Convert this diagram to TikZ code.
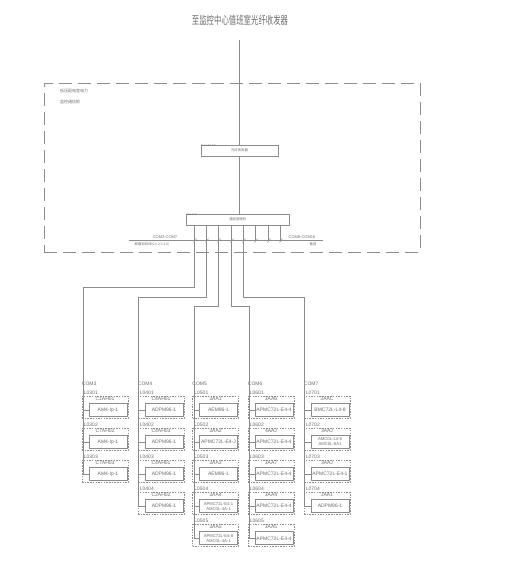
\documentclass[tikz,border=0pt]{standalone}
\usepackage{fontspec}
\setmainfont{Liberation Sans}
\newfontfamily\cjk{Noto Sans CJK SC}
\usetikzlibrary{positioning,calc}
\definecolor{cadgray}{gray}{0.55}
\definecolor{cadtext}{gray}{0.42}

\begin{document}
\begin{tikzpicture}[
    x=1pt, y=-1pt,
    every node/.style={font=\fontsize{5}{5.8}\selectfont, text=cadtext, inner sep=0pt},
    wire/.style={draw=cadgray, line width=0.8pt},
    tickmark/.style={draw=cadgray, line width=0.5pt},
    panel/.style={rectangle, draw=cadgray, line width=0.8pt, dash pattern=on 13pt off 6pt, minimum width=376pt, minimum height=169pt},
    unitbox/.style={rectangle, draw=cadgray, line width=0.8pt, minimum height=11pt},
    groupbox/.style={rectangle, draw=cadgray, line width=0.6pt, dash pattern=on 1.5pt off 1.2pt, minimum width=46pt, minimum height=22pt},
    devbox/.style={rectangle, draw=cadgray, line width=0.8pt, minimum width=38pt, minimum height=13pt, xshift=3pt, align=center},
    smalltag/.style={font=\cjk\fontsize{3.4}{4}\selectfont},
    tag/.style={font=\cjk\fontsize{4}{5}\selectfont},
    devtwo/.style={font=\fontsize{4.2}{5}\selectfont},
]
\useasboundingbox (0,0) rectangle (505,573);

\node[tag] (title) at (240,20) {\fontsize{7.4}{9}\selectfont\scalebox{1}[1.5]{至监控中心值班室光纤收发器}};
\node[panel] (panel) at (232,167.5) {};
\node[tag, anchor=west] (paneltop) at (60,91) {低压配电室电力};
\node[tag, anchor=west] (panelsub) at (60,102) {监控通信柜};

\node[unitbox, smalltag, minimum width=77pt] (conv) at (239.5,150.5) {光纤收发器};
\node[anchor=north west, font=\fontsize{2.5}{3}\selectfont] (convtag) at (conv.north west) {1AH-1AP-FO};
\node[unitbox, smalltag, minimum width=102.5pt] (mgr) at (237.75,219.5) {通信管理机};
\node[anchor=north west, font=\fontsize{2.5}{3}\selectfont] (mgrtag) at (mgr.north west) {1AH-1AP};

\coordinate (feed) at (239.5,40);
\draw[wire] (feed) -- (conv.north);
\draw[wire] (conv.south) -- (conv.south |- mgr.north);

% bus under the manager
\coordinate (busl) at (129,240.5);
\coordinate (busr) at (323,240.5);
\draw[wire] (busl) -- (busr);
\node[anchor=south, font=\fontsize{4}{5}\selectfont] (busa) at (165,239) {COM3-COM7};
\node[smalltag, anchor=north] (busb) at (152,242.5) {屏蔽双绞线(2×2×1.0)};
\node[anchor=south, font=\fontsize{4}{5}\selectfont] (busc) at (302,239) {COM8-COM16};
\node[smalltag, anchor=north] (busd) at (313,242.5) {备用};

\coordinate (p1) at (194.5,225);
\coordinate (p2) at (206.5,225);
\coordinate (p3) at (218.5,225);
\coordinate (p4) at (231.5,225);
\coordinate (p5) at (243.5,225);
\coordinate (p6) at (255.5,225);
\coordinate (p7) at (268.5,225);
\coordinate (p8) at (280.5,225);
\draw[wire] (p6) -- (p6 |- busl);
\draw[wire] (p7) -- (p7 |- busl);
\draw[wire] (p8) -- (p8 |- busl);
\draw[tickmark] (p1 |- busl) ++(-1,2) -- ++(3,-4);
\draw[tickmark] (p2 |- busl) ++(-1,2) -- ++(3,-4);
\draw[tickmark] (p3 |- busl) ++(-1,2) -- ++(3,-4);
\draw[tickmark] (p4 |- busl) ++(-1,2) -- ++(3,-4);
\draw[tickmark] (p5 |- busl) ++(-1,2) -- ++(3,-4);
\draw[tickmark] (p6 |- busl) ++(-1,2) -- ++(3,-4);
\draw[tickmark] (p7 |- busl) ++(-1,2) -- ++(3,-4);
\draw[tickmark] (p8 |- busl) ++(-1,2) -- ++(3,-4);

% COM3
\node[groupbox] (g301) at (105,407) {};
\node[groupbox, below=9.5pt of g301] (g302) {};
\node[groupbox, below=9.5pt of g302] (g303) {};
\node[above=1.5pt of g301.south, devbox] (d301) {AM4-Ip-1};
\node[above=1.5pt of g302.south, devbox] (d302) {AM4-Ip-1};
\node[above=1.5pt of g303.south, devbox] (d303) {AM4-Ip-1};
\node[below=0.8pt of g301.north] (t301) {C1AH01};
\node[below=0.8pt of g302.north] (t302) {C7AH02};
\node[below=0.8pt of g303.north] (t303) {C7AH03};
\node[above right=1pt and 2pt of g301.north west] (l301) {L0301};
\node[above right=1pt and 2pt of g302.north west] (l302) {L0302};
\node[above right=1pt and 2pt of g303.north west] (l303) {L0303};
\node[above right=5pt and 0pt of l301.north west, xshift=-2pt] (c3) {COM3};
\coordinate (k3) at (83,287);
\draw[wire] (p1) |- (k3) -- (k3 |- d303) -- (d303.west);
\draw[wire] (k3 |- d301) -- (d301.west);
\draw[wire] (k3 |- d302) -- (d302.west);

% COM4
\node[groupbox] (g401) at (161,407) {};
\node[groupbox, below=9.5pt of g401] (g402) {};
\node[groupbox, below=9.5pt of g402] (g403) {};
\node[groupbox, below=9.5pt of g403] (g404) {};
\node[above=1.5pt of g401.south, devbox] (d401) {ADPM96-1};
\node[above=1.5pt of g402.south, devbox] (d402) {ADPM96-1};
\node[above=1.5pt of g403.south, devbox] (d403) {ADPM96-1};
\node[above=1.5pt of g404.south, devbox] (d404) {ADPM96-1};
\node[below=0.8pt of g401.north] (t401) {C4AH01};
\node[below=0.8pt of g402.north] (t402) {C4AH03};
\node[below=0.8pt of g403.north] (t403) {C4AH01};
\node[below=0.8pt of g404.north] (t404) {C2AH02};
\node[above right=1pt and 2pt of g401.north west] (l401) {L0401};
\node[above right=1pt and 2pt of g402.north west] (l402) {L0402};
\node[above right=1pt and 2pt of g403.north west] (l403) {L0403};
\node[above right=1pt and 2pt of g404.north west] (l404) {L0404};
\node[above right=5pt and 0pt of l401.north west, xshift=-2pt] (c4) {COM4};
\coordinate (k4) at (138,297.5);
\draw[wire] (p2) |- (k4) -- (k4 |- d404) -- (d404.west);
\draw[wire] (k4 |- d401) -- (d401.west);
\draw[wire] (k4 |- d402) -- (d402.west);
\draw[wire] (k4 |- d403) -- (d403.west);

% COM5
\node[groupbox] (g501) at (215.5,407) {};
\node[groupbox, below=9.5pt of g501] (g502) {};
\node[groupbox, below=9.5pt of g502] (g503) {};
\node[groupbox, below=9.5pt of g503] (g504) {};
\node[groupbox, below=9.5pt of g504] (g505) {};
\node[above=1.5pt of g501.south, devbox] (d501) {AEM96-1};
\node[above=1.5pt of g502.south, devbox] (d502) {APMC72L-E4-J};
\node[above=1.5pt of g503.south, devbox] (d503) {AEM96-1};
\node[above=1.5pt of g504.south, devbox, devtwo] (d504) {APMC72L-E4-1\\AMC0L-4A-1};
\node[above=1.5pt of g505.south, devbox, devtwo] (d505) {APMC72L-E4-8\\AMC0L-4A-1};
\node[below=0.8pt of g501.north] (t501) {3AA1};
\node[below=0.8pt of g502.north] (t502) {3AA2};
\node[below=0.8pt of g503.north] (t503) {3AA3};
\node[below=0.8pt of g504.north] (t504) {3AA4};
\node[below=0.8pt of g505.north] (t505) {3AA5};
\node[above right=1pt and 2pt of g501.north west] (l501) {L0501};
\node[above right=1pt and 2pt of g502.north west] (l502) {L0502};
\node[above right=1pt and 2pt of g503.north west] (l503) {L0503};
\node[above right=1pt and 2pt of g504.north west] (l504) {L0504};
\node[above right=1pt and 2pt of g505.north west] (l505) {L0505};
\node[above right=5pt and 0pt of l501.north west, xshift=-2pt] (c5) {COM5};
\coordinate (k5) at (194,306);
\draw[wire] (p3) |- (k5) -- (k5 |- d505) -- (d505.west);
\draw[wire] (k5 |- d501) -- (d501.west);
\draw[wire] (k5 |- d502) -- (d502.west);
\draw[wire] (k5 |- d503) -- (d503.west);
\draw[wire] (k5 |- d504) -- (d504.west);

% COM6
\node[groupbox] (g601) at (271,407) {};
\node[groupbox, below=9.5pt of g601] (g602) {};
\node[groupbox, below=9.5pt of g602] (g603) {};
\node[groupbox, below=9.5pt of g603] (g604) {};
\node[groupbox, below=9.5pt of g604] (g605) {};
\node[above=1.5pt of g601.south, devbox] (d601) {APMC72L-E4-4};
\node[above=1.5pt of g602.south, devbox] (d602) {APMC72L-E4-4};
\node[above=1.5pt of g603.south, devbox] (d603) {APMC72L-E4-4};
\node[above=1.5pt of g604.south, devbox] (d604) {APMC72L-E4-4};
\node[above=1.5pt of g605.south, devbox] (d605) {APMC72L-E4-4};
\node[below=0.8pt of g601.north] (t601) {3AA6};
\node[below=0.8pt of g602.north] (t602) {4AAJ};
\node[below=0.8pt of g603.north] (t603) {3AA7};
\node[below=0.8pt of g604.north] (t604) {3AA4};
\node[below=0.8pt of g605.north] (t605) {3AA5};
\node[above right=1pt and 2pt of g601.north west] (l601) {L0601};
\node[above right=1pt and 2pt of g602.north west] (l602) {L0602};
\node[above right=1pt and 2pt of g603.north west] (l603) {L0603};
\node[above right=1pt and 2pt of g604.north west] (l604) {L0604};
\node[above right=1pt and 2pt of g605.north west] (l605) {L0605};
\node[above right=5pt and 0pt of l601.north west, xshift=-2pt] (c6) {COM6};
\coordinate (k6) at (249,306);
\draw[wire] (p4) |- (k6) -- (k6 |- d605) -- (d605.west);
\draw[wire] (k6 |- d601) -- (d601.west);
\draw[wire] (k6 |- d602) -- (d602.west);
\draw[wire] (k6 |- d603) -- (d603.west);
\draw[wire] (k6 |- d604) -- (d604.west);

% COM7
\node[groupbox] (g701) at (327,407) {};
\node[groupbox, below=9.5pt of g701] (g702) {};
\node[groupbox, below=9.5pt of g702] (g703) {};
\node[groupbox, below=9.5pt of g703] (g704) {};
\node[above=1.5pt of g701.south, devbox] (d701) {BMC72L-L4-8};
\node[above=1.5pt of g702.south, devbox, devtwo] (d702) {AMC0L-L4-8\\AMC0L-8A1};
\node[above=1.5pt of g703.south, devbox] (d703) {APMC72L-E4-1};
\node[above=1.5pt of g704.south, devbox] (d704) {ADPM96-1};
\node[below=0.8pt of g701.north] (t701) {3AAC};
\node[below=0.8pt of g702.north] (t702) {3AAJ};
\node[below=0.8pt of g703.north] (t703) {3AAJ};
\node[below=0.8pt of g704.north] (t704) {JAA1};
\node[above right=1pt and 2pt of g701.north west] (l701) {L0701};
\node[above right=1pt and 2pt of g702.north west] (l702) {L0702};
\node[above right=1pt and 2pt of g703.north west] (l703) {L0703};
\node[above right=1pt and 2pt of g704.north west] (l704) {L0704};
\node[above right=5pt and 0pt of l701.north west, xshift=-2pt] (c7) {COM7};
\coordinate (k7) at (304.5,297.5);
\draw[wire] (p5) |- (k7) -- (k7 |- d704) -- (d704.west);
\draw[wire] (k7 |- d701) -- (d701.west);
\draw[wire] (k7 |- d702) -- (d702.west);
\draw[wire] (k7 |- d703) -- (d703.west);
\end{tikzpicture}
\end{document}
